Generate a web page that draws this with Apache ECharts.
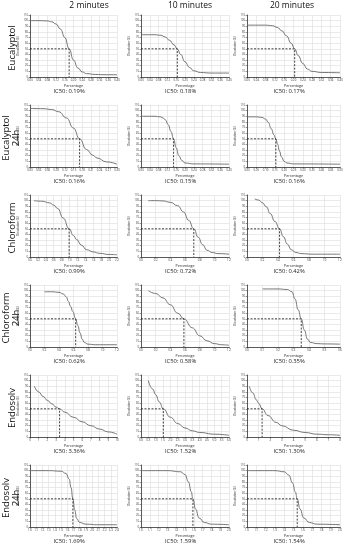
<!DOCTYPE html>
<html><head><meta charset="utf-8">
<script src="https://cdn.jsdelivr.net/npm/echarts@6/dist/echarts.min.js"></script>
<style>html,body{margin:0;padding:0;background:#fff}#c{width:346px;height:550px}</style>
</head><body><div id="c"></div>
<script>
// ---------- data ----------
const columnTitles = ['2 minutes', '10 minutes', '20 minutes'];
const rowLabels = ['Eucalyptol', 'Eucalyptol\n24h', 'Chloroform', 'Chloroform\n24h', 'Endosolv', 'Endosolv\n24h'];
const ic50Labels = [
  'IC50: 0.19%', 'IC50: 0.18%', 'IC50: 0.17%',
  'IC50: 0.16%', 'IC50: 0.15%', 'IC50: 0.16%',
  'IC50: 0.99%', 'IC50: 0.72%', 'IC50: 0.42%',
  'IC50: 0.62%', 'IC50: 0.58%', 'IC50: 0.35%',
  'IC50: 3.36%', 'IC50: 1.52%', 'IC50: 1.30%',
  'IC50: 1.69%', 'IC50: 1.59%', 'IC50: 1.54%'
];
// x where each curve crosses 50 %
const ic50X = [0.18, 0.165, 0.205, 0.171, 0.148, 0.155, 0.99, 0.72, 0.42, 0.63, 0.585, 0.35, 3.4, 1.52, 1.3, 1.69, 1.59, 1.54];
const xMin = [0, 0, 0, 0, 0, 0, 0, 0, 0, 0, 0, 0, 0, 0, 0, 1.0, 1.0, 1.0];
const xMax = [0.4, 0.4, 0.4, 0.3, 0.4, 0.5, 2.2, 1.2, 1.2, 1.2, 1.2, 0.6, 10, 6, 8, 2.4, 2.0, 2.0];
const xStep = [0.04, 0.04, 0.04, 0.03, 0.04, 0.05, 0.2, 0.2, 0.2, 0.2, 0.2, 0.1, 1, 0.5, 1, 0.1, 0.1, 0.1];
const xDecimals = [2, 2, 2, 2, 2, 2, 1, 1, 1, 1, 1, 1, 0, 1, 0, 1, 1, 1];
const yTicks = [0, 10, 20, 30, 40, 50, 60, 70, 80, 90, 100, 110];

const eucalyptol2 = [[0,100],[0.04,100],[0.08,99.5],[0.10,98],[0.12,94],[0.14,85],[0.16,70],[0.18,50],[0.20,30],[0.22,16],[0.24,9],[0.26,6],[0.30,4.5],[0.35,4],[0.40,4]];
const eucalyptol10 = [[0,75],[0.06,75],[0.09,74],[0.11,71],[0.13,65],[0.15,57],[0.165,50],[0.18,40],[0.20,27],[0.22,17],[0.24,11],[0.27,8],[0.32,7],[0.40,7]];
const eucalyptol20 = [[0,92],[0.08,92],[0.11,91],[0.13,88],[0.15,82],[0.17,73],[0.19,60],[0.205,50],[0.22,38],[0.24,24],[0.26,14],[0.28,10],[0.32,8],[0.40,7.5]];
const eucalyptol24h2 = [[0,104],[0.045,103.5],[0.075,102],[0.099,98],[0.126,87],[0.15,69],[0.171,50],[0.195,31],[0.216,21],[0.231,16],[0.264,9],[0.30,5]];
const eucalyptol24h10 = [[0,90],[0.06,90],[0.09,89],[0.10,87],[0.11,84],[0.124,75],[0.136,63],[0.148,50],[0.16,34],[0.172,20],[0.185,12],[0.20,7],[0.24,5.5],[0.40,5]];
const eucalyptol24h20 = [[0,89],[0.05,89],[0.08,88],[0.10,85],[0.115,79],[0.13,68],[0.145,57],[0.155,50],[0.165,40],[0.175,28],[0.185,18],[0.20,10],[0.215,7],[0.25,5.5],[0.50,5]];
const chloroform2 = [[0.1,100],[0.3,99],[0.5,96],[0.6,92],[0.7,86],[0.84,69],[0.99,50],[1.1,38],[1.18,31],[1.3,21],[1.43,13],[1.6,9],[1.76,6.5],[2.0,4.5],[2.2,4]];
const chloroform10 = [[0.1,100],[0.2,100],[0.3,99.5],[0.4,97],[0.5,91],[0.58,80],[0.65,65],[0.72,50],[0.78,35],[0.84,22],[0.9,12],[0.97,8],[1.05,6],[1.2,5]];
const chloroform20 = [[0.1,103],[0.15,101],[0.2,96],[0.25,89],[0.3,77],[0.36,63],[0.42,50],[0.47,36],[0.52,23],[0.57,13],[0.63,8],[0.7,6],[0.85,5],[1.2,5]];
const chloroform24h2 = [[0.2,98],[0.3,98],[0.4,97],[0.46,94],[0.5,89],[0.53,81],[0.56,72],[0.59,63],[0.63,50],[0.66,38],[0.69,25],[0.72,14],[0.75,8],[0.8,5],[0.9,4],[1.2,4]];
const chloroform24h10 = [[0.1,100],[0.2,95],[0.3,87],[0.4,75],[0.5,60],[0.585,50],[0.7,34],[0.8,20],[0.9,11],[1.0,6],[1.1,4],[1.2,3]];
const chloroform24h20 = [[0.1,103],[0.2,103],[0.26,102],[0.29,98],[0.31,85],[0.33,66],[0.35,50],[0.37,30],[0.39,14],[0.41,8],[0.45,6],[0.5,5.5],[0.6,5]];
const endosolv2 = [[0.5,90],[1,80],[1.5,72],[2,65],[2.5,59],[3,53],[3.4,50],[4,44],[5,35],[6,27],[7,20],[8,14],[9,9],[10,5]];
const endosolv10 = [[0.5,100],[0.8,85],[1.0,75],[1.25,62],[1.52,50],[2.0,35],[2.5,24],[3,16],[3.5,11],[4,8],[5,5],[6,3]];
const endosolv20 = [[0.2,90],[0.5,78],[0.8,66],[1.0,60],[1.3,50],[1.8,38],[2.5,26],[3,20],[4,12],[5,8],[6,5],[7,4],[8,3]];
const endosolv24h2 = [[1.0,100],[1.3,100],[1.5,99],[1.58,95],[1.63,85],[1.66,70],[1.69,50],[1.72,30],[1.75,15],[1.8,8],[1.9,5],[2.1,4],[2.4,4]];
const endosolv24h10 = [[1.0,100],[1.3,100],[1.45,98],[1.5,93],[1.54,80],[1.57,63],[1.59,50],[1.62,32],[1.66,16],[1.72,8],[1.8,5],[2.0,4]];
const endosolv24h20 = [[1.0,100],[1.3,100],[1.4,98],[1.45,92],[1.49,78],[1.52,62],[1.54,50],[1.57,32],[1.61,16],[1.67,8],[1.75,5],[2.0,4]];

const curves = [
  eucalyptol2, eucalyptol10, eucalyptol20,
  eucalyptol24h2, eucalyptol24h10, eucalyptol24h20,
  chloroform2, chloroform10, chloroform20,
  chloroform24h2, chloroform24h10, chloroform24h20,
  endosolv2, endosolv10, endosolv20,
  endosolv24h2, endosolv24h10, endosolv24h20
];

// ---------- layout ----------
const colLeft = [30, 141, 247];
const colRight = [117, 229, 340];
const rowTop0 = 15, rowH = 62, rowStep = 90;
const FONT = 'Open Sans';

const grid = [], xAxis = [], yAxis = [], series = [], graphic = [];
for (let i = 0; i < 18; i++) {
  const r = Math.floor(i / 3), c = i % 3;
  const top = rowTop0 + r * rowStep;
  grid.push({ left: colLeft[c], width: colRight[c] - colLeft[c], top: top, height: rowH });
  xAxis.push({
    type: 'value', gridIndex: i, min: xMin[i], max: xMax[i], interval: xStep[i],
    name: 'Percentage', nameLocation: 'middle', nameGap: 7,
    nameTextStyle: { fontSize: 3.6, color: '#222', fontFamily: FONT },
    axisLine: { lineStyle: { color: '#333', width: 0.8 } },
    axisTick: { length: 1.5, lineStyle: { color: '#333', width: 0.5 } },
    axisLabel: { fontSize: 2.8, margin: 2, color: '#333', fontFamily: FONT,
      formatter: v => Number(v).toFixed(xDecimals[i]), showMaxLabel: true, showMinLabel: true, hideOverlap: false },
    splitLine: { show: true, lineStyle: { color: '#dcdcdc', width: 0.6 } }
  });
  yAxis.push({
    type: 'value', gridIndex: i, min: yTicks[0], max: yTicks[yTicks.length - 1], interval: 10,
    name: 'Dissolution (%)', nameLocation: 'middle', nameGap: 8, nameRotate: 90,
    nameTextStyle: { fontSize: 2.8, color: '#222', fontFamily: FONT },
    axisLine: { show: true, lineStyle: { color: '#333', width: 0.8 } },
    axisTick: { show: true, length: 1.5, lineStyle: { color: '#333', width: 0.5 } },
    axisLabel: { fontSize: 2.6, margin: 2, color: '#333', fontFamily: FONT, hideOverlap: false },
    splitLine: { show: true, lineStyle: { color: '#dcdcdc', width: 0.6 } }
  });
  series.push({
    type: 'line', xAxisIndex: i, yAxisIndex: i, data: curves[i],
    smooth: 0.5, smoothMonotone: 'x', showSymbol: false, symbol: 'none',
    lineStyle: { color: '#666', width: 0.9 }, silent: true, animation: false
  });
  series.push({
    type: 'line', xAxisIndex: i, yAxisIndex: i,
    data: [[xMin[i], 50], [ic50X[i], 50], [ic50X[i], 0]],
    showSymbol: false, symbol: 'none',
    lineStyle: { color: '#111', width: 0.8, type: [2, 1.5] }, silent: true, animation: false, z: 3
  });
  graphic.push({
    type: 'text', left: (colLeft[c] + colRight[c]) / 2 - 20, top: top + rowH + 11,
    style: { text: ic50Labels[i], fontSize: 5.8, fill: '#222', fontFamily: FONT, width: 40, align: 'center' }
  });
}
const titleX = [89, 190, 292];
columnTitles.forEach((t, c) => {
  graphic.push({ type: 'text', x: titleX[c], y: 1,
    style: { text: t, fontSize: 8.5, fill: '#111', fontFamily: FONT, align: 'center', verticalAlign: 'top' } });
});
rowLabels.forEach((t, r) => {
  const twoLines = t.indexOf('\n') >= 0;
  graphic.push({ type: 'text', x: twoLines ? 11 : 12, y: rowTop0 + r * rowStep + rowH / 2 + 2, rotation: Math.PI / 2,
    style: { text: t, fontSize: 9.5, fill: '#111', fontFamily: FONT, align: 'center', verticalAlign: 'middle', lineHeight: 10 } });
});

const chart = echarts.init(document.getElementById('c'), null, { renderer: 'canvas' });
chart.setOption({ animation: false, grid, xAxis, yAxis, series, graphic });
</script></body></html>
